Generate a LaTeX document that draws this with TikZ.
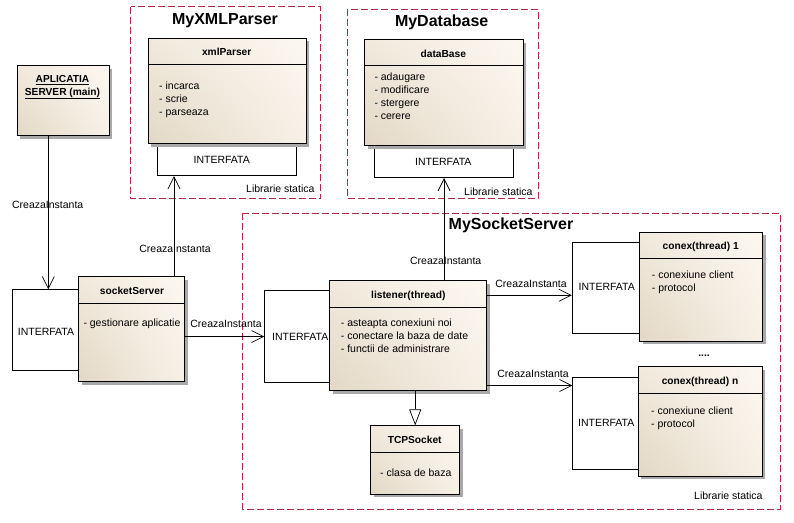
\documentclass[tikz,border=0pt]{standalone}
\usepackage{fontspec}
\setmainfont{Liberation Sans}
\usetikzlibrary{arrows.meta,shadows,shadings}
\definecolor{pkgred}{HTML}{B22A46}
\definecolor{clsA}{HTML}{F1E9DC}
\definecolor{clsB}{HTML}{FCF8F1}
\definecolor{clsC}{HTML}{E3D8C6}
\definecolor{clsD}{HTML}{F6F0E6}
\definecolor{shadowgray}{HTML}{A9A9A9}
\begin{document}
\begin{tikzpicture}[x=1pt,y=-1pt,
  txt/.style={font=\fontsize{10.5}{13}\selectfont, inner sep=0pt},
  attr/.style={txt, anchor=north west, align=left},
  ttl/.style={font=\bfseries\fontsize{10.2}{13}\selectfont, inner sep=0pt},
  pkgtitle/.style={font=\bfseries\fontsize{16}{20}\selectfont, inner sep=0pt},
  pkg/.style={draw=pkgred, dash pattern=on 7pt off 3pt, line width=0.8pt},
  box/.style={draw, line width=0.8pt, anchor=north west, inner sep=0pt},
  cls/.style={box, upper left=clsA, upper right=clsB, lower left=clsC, lower right=clsD,
    drop shadow={shadow xshift=3pt, shadow yshift=-3pt, fill=shadowgray, opacity=1}},
  iface/.style={box, fill=white},
  sep/.style={line width=0.8pt},
  arr/.style={-{Straight Barb[length=12pt,width=12pt]}, line width=0.7pt},
  inh/.style={-{Triangle[open,length=16pt,width=12pt,fill=white]}, line width=0.7pt},
]
\useasboundingbox[fill=white] (0,0) rectangle (794,522);

% ---------- packages ----------
\draw[pkg] (130.7,6.7) rectangle (320.7,198.7);
\draw[pkg] (347.3,9.3) rectangle (538,198.7);
\draw[pkg] (242.5,213.3) rectangle (780,509);
\node[pkgtitle] (t1) at (225,21) {MyXMLParser};
\node[pkgtitle] (t2) at (441.7,22.7) {MyDatabase};
\node[pkgtitle] (t3) at (511,225) {MySocketServer};
\node[txt] (ls1) at (280.3,189) {Librarie statica};
\node[txt] (ls2) at (498.3,191.3) {Librarie statica};
\node[txt] (ls3) at (728.3,495.7) {Librarie statica};

% ---------- interfaces ----------
\node[iface, minimum width=138.7pt, minimum height=33pt] (xmlif) at (157.3,142.3) {};
\node[txt] (xmlift) at (221.7,160.3) {INTERFATA};
\node[iface, minimum width=138.7pt, minimum height=33pt] (dbif) at (374.3,144.3) {};
\node[txt] (dbift) at (443.3,162.3) {INTERFATA};
\node[iface, minimum width=70pt, minimum height=81pt] (ifs) at (12.3,289.3) {};
\node[txt] (ifst) at (46,331.7) {INTERFATA};
\node[iface, minimum width=70pt, minimum height=91.7pt] (lisif) at (264.3,290.3) {};
\node[txt] (lisift) at (300.2,337.3) {INTERFATA};
\node[iface, minimum width=72pt, minimum height=91.6pt] (c1if) at (571.7,241.7) {};
\node[txt] (c1ift) at (606.7,287.3) {INTERFATA};
\node[iface, minimum width=70pt, minimum height=92pt] (cnif) at (572.3,377.3) {};
\node[txt] (cnift) at (606.2,422.7) {INTERFATA};

% ---------- classes ----------
\node[cls, minimum width=92pt, minimum height=70pt] (app) at (16.7,65.3) {};
\node[ttl, align=center, font=\bfseries\fontsize{10.2}{12.5}\selectfont] (appt) at (62.5,87.4)
  {\underline{APLICATIA}\\\underline{SERVER (main)}};

\node[cls, minimum width=158pt, minimum height=105.6pt] (xml) at (147.7,37.7) {};
\draw[sep] ([yshift=-26.6pt]xml.north west) -- ([yshift=-26.6pt]xml.north east);
\node[ttl] (xmlt) at (226.7,52.3) {xmlParser};
\node[attr] (xmla) at (159,82) {- incarca\\- scrie\\- parseaza};

\node[cls, minimum width=158.4pt, minimum height=106pt] (db) at (364.3,39.3) {};
\draw[sep] ([yshift=-26.4pt]db.north west) -- ([yshift=-26.4pt]db.north east);
\node[ttl] (dbt) at (443.3,53.7) {dataBase};
\node[attr] (dba) at (374.3,73) {- adaugare\\- modificare\\- stergere\\- cerere};

\node[cls, minimum width=106pt, minimum height=105pt] (ss) at (78.3,276.3) {};
\draw[sep] ([yshift=-27pt]ss.north west) -- ([yshift=-27pt]ss.north east);
\node[ttl] (sst) at (132,290.8) {socketServer};
\node[attr] (ssa) at (83.3,318.3) {- gestionare aplicatie};

\node[cls, minimum width=157pt, minimum height=110pt] (lis) at (329.3,280.3) {};
\draw[sep] ([yshift=-27pt]lis.north west) -- ([yshift=-27pt]lis.north east);
\node[ttl] (list) at (408.3,295.8) {listener(thread)};
\node[attr, font=\fontsize{10.5}{12.7}\selectfont] (lisa) at (340.7,319) {- asteapta conexiuni noi\\- conectare la baza de date\\- functii de administrare};

\node[cls, minimum width=89pt, minimum height=68.7pt] (tcp) at (370.3,425.3) {};
\draw[sep] ([yshift=-27pt]tcp.north west) -- ([yshift=-27pt]tcp.north east);
\node[ttl] (tcpt) at (414.7,440.2) {TCPSocket};
\node[attr] (tcpa) at (380,469) {- clasa de baza};

\node[cls, minimum width=123pt, minimum height=109.3pt] (c1) at (639.3,231.7) {};
\draw[sep] ([yshift=-26.6pt]c1.north west) -- ([yshift=-26.6pt]c1.north east);
\node[ttl] (c1t) at (700.7,246.8) {conex(thread) 1};
\node[attr] (c1a) at (651.7,271) {- conexiune client\\- protocol};

\node[cls, minimum width=124pt, minimum height=109.7pt] (cn) at (637.7,366.3) {};
\draw[sep] ([yshift=-27pt]cn.north west) -- ([yshift=-27pt]cn.north east);
\node[ttl] (cnt) at (700,381.8) {conex(thread) n};
\node[attr] (cna) at (651,407) {- conexiune client\\- protocol};

\node[ttl] (dots) at (704,356) {....};

% ---------- connectors ----------
\coordinate (appout) at ([xshift=31.6pt]app.south west);
\draw[arr] (appout) -- (appout |- ifs.north);
\node[txt] (l1) at (47.7,205) {CreazaInstanta};

\coordinate (ssout) at ([xshift=95.7pt]ss.north west);
\draw[arr] (ssout) -- (ssout |- xmlif.south);
\node[txt] (l2) at (175,249) {CreazaInstanta};

\draw[arr] (lisif.west -| ss.east) -- (lisif.west);
\node[txt] (l3) at (226,323.7) {CreazaInstanta};

\draw[arr] (dbif.south |- lis.north) -- (dbif.south);
\node[txt] (l4) at (445.7,261) {CreazaInstanta};

\coordinate (lisout1) at ([yshift=-15pt]lis.north east);
\draw[arr] (lisout1) -- (lisout1 -| c1if.west);
\node[txt] (l5) at (531,284.3) {CreazaInstanta};

\coordinate (lisout2) at ([yshift=5.6pt]lis.south east);
\draw[arr] (lisout2) -- (lisout2 -| cnif.west);
\node[txt] (l6) at (533,374.3) {CreazaInstanta};

\draw[inh] (tcp.north |- lis.south) -- (tcp.north);
\end{tikzpicture}
\end{document}
